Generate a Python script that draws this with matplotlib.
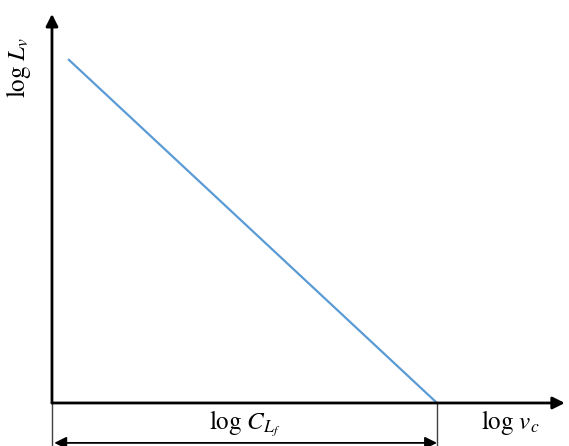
import matplotlib.pyplot as plt

# schematic data: log L_v against log v_c
log_vc = [0.22, 5.0]
log_Lv = [4.3, 0.0]

x_end = 6.66   # tip of the x axis arrow
y_end = 4.875  # tip of the y axis arrow

plt.rcParams['mathtext.fontset'] = 'stix'
plt.rcParams['font.family'] = 'STIXGeneral'

fig = plt.figure(figsize=(5.69, 4.46), dpi=100)
ax = fig.add_axes([0, 0, 1, 1])
ax.set_xlim(-0.675, 6.714)
ax.set_ylim(-0.539, 5.05)
ax.axis('off')

ax.plot(log_vc, log_Lv, color='#5B9BD5', lw=1.6)

# axes with arrow heads
ax.annotate('', xy=(x_end, 0), xytext=(0, 0),
            arrowprops=dict(arrowstyle='-|>', color='black', lw=2, mutation_scale=18, shrinkA=0, shrinkB=0))
ax.annotate('', xy=(0, y_end), xytext=(0, 0),
            arrowprops=dict(arrowstyle='-|>', color='black', lw=2, mutation_scale=18, shrinkA=0, shrinkB=0))

# dimension lines under the x axis
ax.plot([0, 0], [0, -0.55], color='#404040', lw=1)
ax.plot([log_vc[1], log_vc[1]], [0, -0.55], color='#404040', lw=1)
ax.annotate('', xy=(0.03, -0.5), xytext=(log_vc[1], -0.5),
            arrowprops=dict(arrowstyle='<|-|>', color='black', lw=1.3, mutation_scale=18, shrinkA=0, shrinkB=0))

ax.text(log_vc[1] / 2, -0.26, r'$\log\,C_{L_f}$', ha='center', va='center', fontsize=18)
ax.text(5.95, -0.24, r'$\log\,v_c$', ha='center', va='center', fontsize=18)
ax.text(-0.44, 4.2, r'$\log\,L_v$', ha='center', va='center', fontsize=18, rotation=90)

fig.savefig('out.png', dpi=100)
